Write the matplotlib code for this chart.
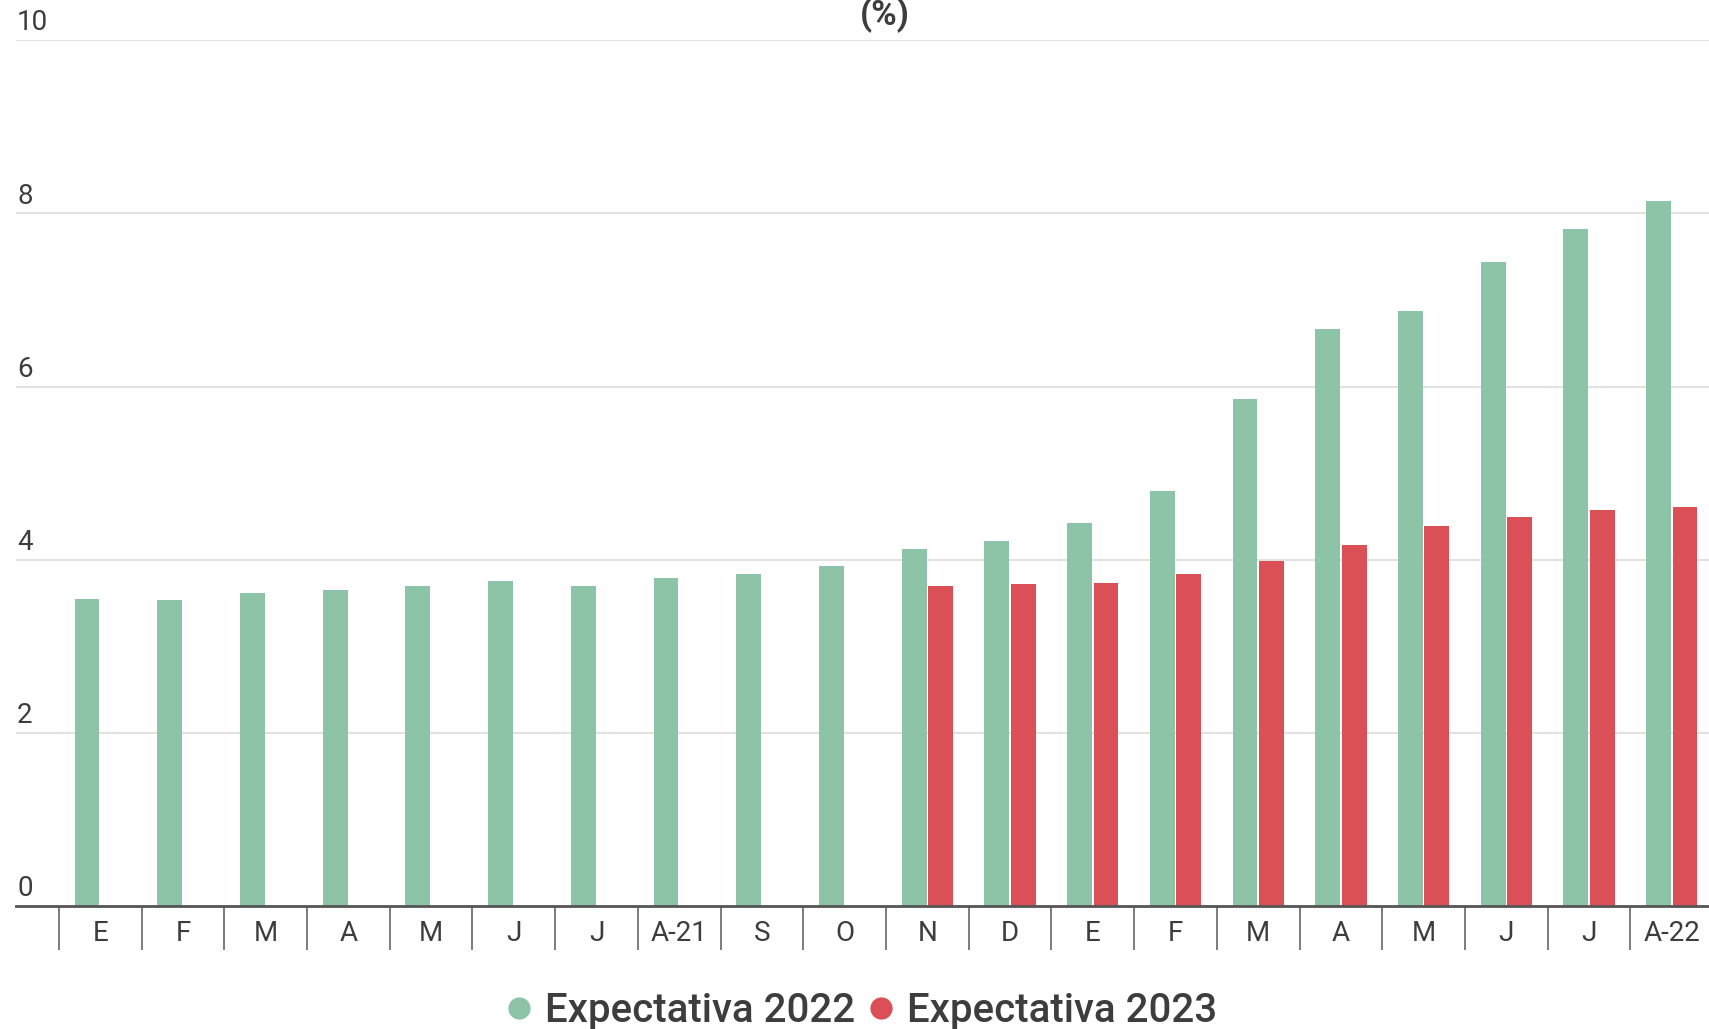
import matplotlib
matplotlib.use("Agg")
import matplotlib.pyplot as plt
from matplotlib.lines import Line2D
from matplotlib.ticker import FixedLocator
import numpy as np

plt.rcParams["font.family"] = ["Roboto", "DejaVu Sans"]

# monthly survey: inflation expectation for 2022 and 2023 (%)
months = ["E", "F", "M", "A", "M", "J", "J", "A-21", "S", "O",
          "N", "D", "E", "F", "M", "A", "M", "J", "J", "A-22"]
exp_2022 = [3.55, 3.54, 3.61, 3.65, 3.70, 3.75, 3.70, 3.79, 3.84, 3.93,
            4.12, 4.22, 4.42, 4.79, 5.86, 6.67, 6.87, 7.44, 7.82, 8.14]
exp_2023 = [None] * 10 + [3.70, 3.72, 3.73, 3.83, 3.98, 4.17, 4.39, 4.49, 4.57, 4.61]
yticks = [0, 2, 4, 6, 8, 10]

GREEN = "#8DC3A7"
RED = "#DB4F57"
TEXT = "#3d3d3d"

W, H, DPI = 1709, 1029, 100
fig = plt.figure(figsize=(W / DPI, H / DPI), dpi=DPI)
ax = fig.add_axes([16.4 / W, 123 / H, 1 - 16.4 / W, (988.7 - 123) / H])

x = np.arange(len(months))
bw = 0.30
off = 0.16
ax.bar(x - off, exp_2022, width=bw, color=GREEN, zorder=3)
x23 = [i for i, v in enumerate(exp_2023) if v is not None]
ax.bar(np.array(x23) + off, [exp_2023[i] for i in x23], width=bw, color=RED, zorder=3)

ax.set_xlim(-1.014, 19.45)
ax.set_ylim(0, 10)

# grid
for v in yticks[1:]:
    ax.axhline(v, color="#e2e2e2", lw=1.5, zorder=1)
ax.set_yticks([])

# y labels sit above the gridlines, left aligned
for v in yticks:
    ax.annotate(str(v), xy=(0, v), xycoords=ax.get_yaxis_transform(),
                xytext=(0.5, 12.5), textcoords="offset points",
                ha="left", va="center", fontsize=20, color=TEXT)

for s in ["top", "right", "left"]:
    ax.spines[s].set_visible(False)
ax.spines["bottom"].set_color("#555555")
ax.spines["bottom"].set_linewidth(2)
ax.spines["bottom"].set_zorder(4)

ax.set_xticks(x)
ax.set_xticklabels(months, fontsize=20, color=TEXT)
ax.tick_params(axis="x", which="major", length=0, pad=10)
ax.xaxis.set_minor_locator(FixedLocator(np.arange(-0.5, 19, 1.0)))
ax.tick_params(axis="x", which="minor", length=31.5, width=1.2,
               color="#666666", direction="out")

fig.text(885 / W, 1 - 15 / H, "(%)", ha="center", va="center",
         fontsize=25, fontweight="bold", color=TEXT)

handles = [Line2D([], [], ls="none", marker="o", markersize=15, color=GREEN),
           Line2D([], [], ls="none", marker="o", markersize=15, color=RED)]
fig.legend(handles, ["Expectativa 2022", "Expectativa 2023"],
           loc="center", bbox_to_anchor=(862 / W, 18 / H), ncol=2,
           frameon=False, handlelength=0.6, handletextpad=0.35,
           columnspacing=0.35, borderaxespad=0, labelcolor=TEXT,
           prop={"size": 29, "weight": "medium"})

fig.savefig("out.png", dpi=DPI, facecolor="white")
